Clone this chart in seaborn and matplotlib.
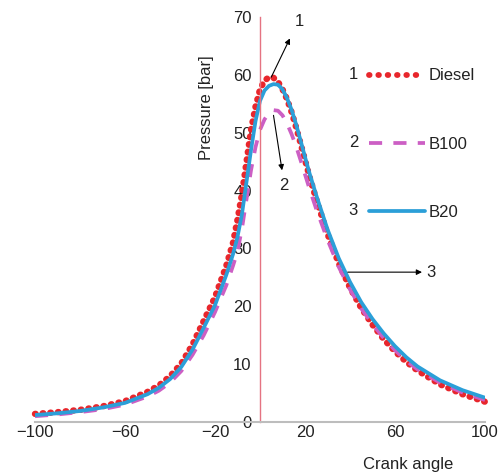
import numpy as np
import pandas as pd
import seaborn as sns
import matplotlib.pyplot as plt
from matplotlib.lines import Line2D

# crank angle (deg) and cylinder pressure (bar)
crank = [-100, -90, -80, -70, -60, -50, -45, -40, -35, -30, -25, -20, -15, -12, -10,
         -8, -6, -4, -2, 0, 2, 4, 6, 8, 10, 12, 14, 16, 18, 20, 22, 25, 30, 35, 40,
         45, 50, 55, 60, 65, 70, 80, 90, 100]
diesel = [1.4, 1.7, 2.1, 2.7, 3.6, 5.2, 6.3, 7.9, 10.1, 13.4, 17.5, 21.6, 27.0, 31.0, 35.0,
          39.5, 45.0, 50.5, 54.5, 57.5, 59.0, 59.6, 59.5, 58.8, 57.5, 55.8, 53.6, 51.0, 48.2, 45.3, 42.4,
          38.5, 32.5, 27.4, 23.2, 19.7, 16.8, 14.3, 12.2, 10.4, 8.9, 6.5, 4.8, 3.5]
b100 = [1.0, 1.3, 1.7, 2.2, 3.0, 4.4, 5.4, 6.8, 8.8, 11.6, 15.0, 19.0, 23.6, 27.0, 29.5,
        33.5, 38.5, 43.5, 47.5, 50.5, 52.3, 53.4, 53.9, 53.8, 53.0, 51.6, 49.8, 47.7, 45.3, 42.8, 40.3,
        36.8, 31.5, 26.8, 22.9, 19.6, 16.9, 14.5, 12.4, 10.6, 9.1, 6.8, 5.1, 3.8]
b20 = [1.2, 1.5, 1.9, 2.5, 3.3, 4.8, 5.9, 7.4, 9.5, 12.5, 16.3, 20.2, 25.4, 29.0, 32.0,
       36.0, 41.5, 47.0, 52.0, 55.5, 57.3, 58.1, 58.4, 58.3, 57.5, 56.0, 54.0, 51.5, 48.7, 45.8, 43.0,
       39.2, 33.3, 28.3, 24.2, 20.7, 17.8, 15.3, 13.1, 11.2, 9.6, 7.2, 5.5, 4.2]

red = '#e8262c'
pink = '#cc5fc4'
blue = '#2b9fd8'
dot_style = (0, (0.1, 1.1))
dash_style = (0, (3.5, 3))

sns.set_theme(style='white')
plt.rcParams['font.family'] = ['Liberation Sans', 'DejaVu Sans']

fig = plt.figure(figsize=(5, 4.75), dpi=100)
ax = fig.add_axes([0.07, 0.1116, 0.90, 0.8526])

df = pd.DataFrame({'crank': crank, 'Diesel': diesel, 'B100': b100, 'B20': b20})

sns.lineplot(data=df, x='crank', y='Diesel', ax=ax, color=red, lw=4.6,
             linestyle=dot_style, dash_capstyle='round', clip_on=False)
sns.lineplot(data=df, x='crank', y='B100', ax=ax, color=pink, lw=2.7,
             linestyle=dash_style)
sns.lineplot(data=df, x='crank', y='B20', ax=ax, color=blue, lw=2.7)

ax.set_xlim(-100, 100)
ax.set_ylim(0, 70)
ax.set_xticks([-100, -60, -20, 20, 60, 100])
ax.set_xticklabels(['\u2212100', '\u221260', '\u221220', '20', '60', '100'])
ax.set_yticks(range(0, 71, 10))

for s in ['top', 'right']:
    ax.spines[s].set_visible(False)
ax.spines['left'].set_position(('data', 0))
ax.spines['left'].set_color('#e57382')
ax.spines['left'].set_linewidth(1.0)
ax.spines['bottom'].set_color('#bdbdbd')
ax.spines['bottom'].set_linewidth(1.5)

ax.tick_params(axis='x', length=0, pad=2, labelsize=12, colors='#222222')
ax.tick_params(axis='y', length=3, width=1, color='#e57382', pad=3,
               labelsize=12, labelcolor='#222222', direction='out')

ax.set_xlabel('Crank angle', fontsize=12, color='#222222')
ax.xaxis.set_label_coords(0.829, -0.106)
ax.xaxis.label.set_va('center')
ax.set_ylabel('Pressure [bar]', fontsize=12, color='#222222')
ax.yaxis.set_label_coords(0.382, 0.775)
ax.yaxis.label.set_va('center')

# legend
handles = [
    Line2D([], [], color=red, lw=4.2, linestyle=(0, (0.1, 1.5)), dash_capstyle='round'),
    Line2D([], [], color=pink, lw=2.7, linestyle=dash_style),
    Line2D([], [], color=blue, lw=2.7),
]
leg = ax.legend(handles, ['Diesel', 'B100', 'B20'], loc='upper left',
                bbox_to_anchor=(0.708, 0.91), frameon=False, fontsize=12,
                handlelength=3.4, handletextpad=0.2, labelspacing=3.2)
for t in leg.get_texts():
    t.set_color('#222222')
for i, yy in enumerate([0.857, 0.689, 0.523]):
    ax.text(0.697, yy, str(i + 1), transform=ax.transAxes, fontsize=12,
            ha='left', va='center', color='#222222')

# callouts
arrow = dict(arrowstyle='-|>', color='black', lw=0.8, mutation_scale=8, shrinkA=0, shrinkB=0)
ax.annotate('', xy=(13.3, 66.3), xytext=(5, 59.6), arrowprops=arrow)
ax.text(15.5, 69.3, '1', fontsize=12, ha='left', va='center', color='#222222')
ax.annotate('', xy=(9.8, 43.5), xytext=(6, 53), arrowprops=arrow)
ax.text(10.7, 40.8, '2', fontsize=12, ha='center', va='center', color='#222222')
ax.annotate('', xy=(72, 25.9), xytext=(39, 25.9), arrowprops=arrow)
ax.text(74, 25.9, '3', fontsize=12, ha='left', va='center', color='#222222')

fig.savefig('out.png', dpi=100)
